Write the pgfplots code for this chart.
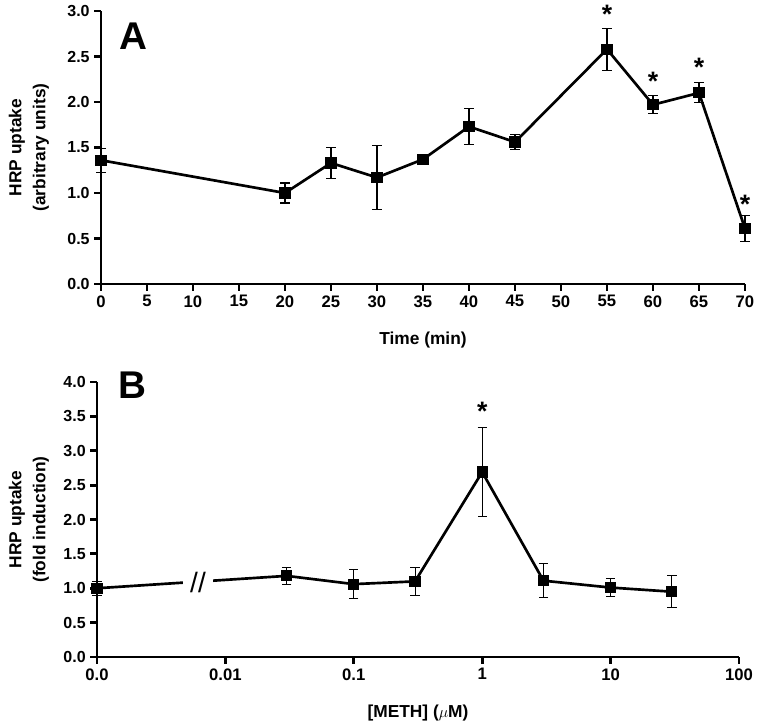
\documentclass[border=0pt]{standalone}
\usepackage{fontspec}
\setmainfont{Liberation Sans}
\usepackage{pgfplots}
\pgfplotsset{compat=1.18}

\pgfplotsset{hrp/.style={
  scale only axis,
  axis x line*=bottom, axis y line*=left,
  axis line style={line width=2.2pt,-},
  tick align=outside, major tick length=5pt,
  tick style={line width=2.2pt,black},
  x tick label style={font=\fontsize{12.5}{13}\selectfont\bfseries},
  y tick label style={font=\fontsize{12}{13}\selectfont\bfseries,
    /pgf/number format/.cd,fixed,fixed zerofill,precision=1},
  /pgf/number format/assume math mode=true,
  label style={font=\fontsize{13}{18}\selectfont\bfseries,align=center},
  clip=false,
}}
\pgfplotsset{dat/.style={black,line width=2pt,mark=square*,mark size=3.2pt,mark options={solid},
  error bars/.cd,y dir=both,y explicit,
  error bar style={line width=0.8pt,black},
  error mark options={rotate=90,mark size=3.5pt,line width=0.8pt,black}}}
\pgfplotsset{star/.style={draw=none,mark=none,nodes near coords={*},
  every node near coord/.append style={anchor=north,inner sep=0pt,
    font=\fontsize{20}{20}\selectfont\bfseries}}}

\begin{document}
\begin{tikzpicture}
\useasboundingbox (0,0) rectangle (567.75pt,544.5pt);

% panel A
\begin{axis}[hrp,at={(75.75pt,331.5pt)},anchor=south west,
  width=483pt,height=204.75pt,
  xmin=0,xmax=70,ymin=0,ymax=3,
  xtick={0,5,...,70},ytick={0,0.5,...,3},
  xlabel={Time (min)},ylabel={HRP uptake\\(arbitrary units)},
  xlabel style={at={(axis description cs:0.5,-0.205)},anchor=center},
  ylabel style={at={(axis description cs:-0.112,0.5)},anchor=center}]
\addplot[dat] coordinates {
  (0,1.36) +- (0,0.13)
  (20,1.00) +- (0,0.11)
  (25,1.33) +- (0,0.17)
  (30,1.17) +- (0,0.35)
  (35,1.37) +- (0,0.02)
  (40,1.73) +- (0,0.20)
  (45,1.56) +- (0,0.08)
  (55,2.58) +- (0,0.23)
  (60,1.97) +- (0,0.10)
  (65,2.10) +- (0,0.11)
  (70,0.61) +- (0,0.14)};
\addplot[star] coordinates {(55,3.07) (60,2.33) (65,2.48) (70,0.98)};
\node[font=\fontsize{29}{29}\selectfont\bfseries,inner sep=0pt] at (axis description cs:0.051,0.908) {A};
\end{axis}

% panel B
\begin{axis}[hrp,at={(72.75pt,51.75pt)},anchor=south west,
  width=481.5pt,height=206.25pt,
  xmode=log,log basis x=10,xminorticks=false,
  xmin=0.001,xmax=100,ymin=0,ymax=4,
  xtick={0.001,0.01,0.1,1,10,100},
  xticklabels={0.0,0.01,0.1,1,10,100},
  ytick={0,0.5,...,4},
  xlabel={[METH] (\(\mu\)M)},ylabel={HRP uptake\\(fold induction)},
  xlabel style={at={(axis description cs:0.5,-0.204)},anchor=center},
  ylabel style={at={(axis description cs:-0.106,0.5)},anchor=center}]
\addplot[dat] coordinates {
  (0.001,1.00) +- (0,0.10)
  (0.03,1.18) +- (0,0.12)
  (0.1,1.06) +- (0,0.21)
  (0.3,1.10) +- (0,0.20)
  (1,2.69) +- (0,0.645)
  (3,1.11) +- (0,0.245)
  (10,1.01) +- (0,0.13)
  (30,0.95) +- (0,0.235)};
\addplot[star] coordinates {(1,3.71)};
\node[fill=white,inner sep=0pt,minimum width=23pt,font=\fontsize{21}{21}\selectfont] at (axis cs:0.00612,1.09) {//};
\node[font=\fontsize{29}{29}\selectfont\bfseries,inner sep=0pt] at (axis description cs:0.056,0.989) {B};
\end{axis}
\end{tikzpicture}
\end{document}
